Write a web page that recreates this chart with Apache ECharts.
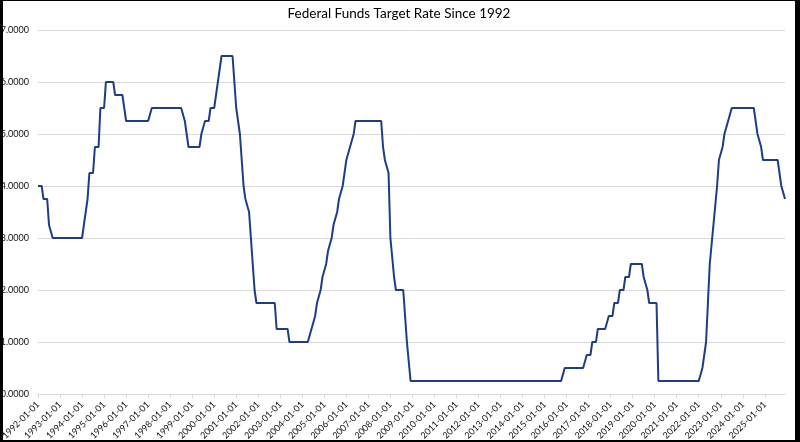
<!DOCTYPE html>
<html>
<head>
<meta charset="utf-8">
<title>Federal Funds Target Rate Since 1992</title>
<script src="https://cdn.jsdelivr.net/npm/echarts@6/dist/echarts.min.js"></script>
<style>
  html, body { margin: 0; padding: 0; background: #000; }
  #chart {
    position: absolute;
    left: 3px;
    top: 1px;
    width: 792px;
    height: 439px;
    background: #fff;
  }
</style>
</head>
<body>
<div id="chart"></div>
<script>
var chartTitle = "Federal Funds Target Rate Since 1992";
var startYear = 1992;
var endYear = 2025;

// month-end target rate (upper bound after 2008), one row per year
var rates1990s = [
  4.00, 4.00, 4.00, 3.75, 3.75, 3.75, 3.25, 3.25, 3.00, 3.00, 3.00, 3.00, // 1992
  3.00, 3.00, 3.00, 3.00, 3.00, 3.00, 3.00, 3.00, 3.00, 3.00, 3.00, 3.00, // 1993
  3.00, 3.25, 3.50, 3.75, 4.25, 4.25, 4.25, 4.75, 4.75, 4.75, 5.50, 5.50, // 1994
  5.50, 6.00, 6.00, 6.00, 6.00, 6.00, 5.75, 5.75, 5.75, 5.75, 5.75, 5.50, // 1995
  5.25, 5.25, 5.25, 5.25, 5.25, 5.25, 5.25, 5.25, 5.25, 5.25, 5.25, 5.25, // 1996
  5.25, 5.25, 5.50, 5.50, 5.50, 5.50, 5.50, 5.50, 5.50, 5.50, 5.50, 5.50, // 1997
  5.50, 5.50, 5.50, 5.50, 5.50, 5.50, 5.50, 5.50, 5.25, 5.00, 4.75, 4.75, // 1998
  4.75, 4.75, 4.75, 4.75, 4.75, 5.00, 5.00, 5.25, 5.25, 5.25, 5.50, 5.50  // 1999
];
var rates2000s = [
  5.50, 5.75, 6.00, 6.00, 6.50, 6.50, 6.50, 6.50, 6.50, 6.50, 6.50, 6.50, // 2000
  5.50, 5.50, 5.00, 4.50, 4.00, 3.75, 3.75, 3.50, 3.00, 2.50, 2.00, 1.75, // 2001
  1.75, 1.75, 1.75, 1.75, 1.75, 1.75, 1.75, 1.75, 1.75, 1.75, 1.25, 1.25, // 2002
  1.25, 1.25, 1.25, 1.25, 1.25, 1.00, 1.00, 1.00, 1.00, 1.00, 1.00, 1.00, // 2003
  1.00, 1.00, 1.00, 1.00, 1.00, 1.25, 1.25, 1.50, 1.75, 1.75, 2.00, 2.25, // 2004
  2.25, 2.50, 2.75, 2.75, 3.00, 3.25, 3.25, 3.50, 3.75, 3.75, 4.00, 4.25, // 2005
  4.50, 4.50, 4.75, 4.75, 5.00, 5.25, 5.25, 5.25, 5.25, 5.25, 5.25, 5.25, // 2006
  5.25, 5.25, 5.25, 5.25, 5.25, 5.25, 5.25, 5.25, 4.75, 4.50, 4.50, 4.25, // 2007
  3.00, 3.00, 2.25, 2.00, 2.00, 2.00, 2.00, 2.00, 2.00, 1.00, 1.00, 0.25, // 2008
  0.25, 0.25, 0.25, 0.25, 0.25, 0.25, 0.25, 0.25, 0.25, 0.25, 0.25, 0.25  // 2009
];
var rates2010s = [
  0.25, 0.25, 0.25, 0.25, 0.25, 0.25, 0.25, 0.25, 0.25, 0.25, 0.25, 0.25, // 2010
  0.25, 0.25, 0.25, 0.25, 0.25, 0.25, 0.25, 0.25, 0.25, 0.25, 0.25, 0.25, // 2011
  0.25, 0.25, 0.25, 0.25, 0.25, 0.25, 0.25, 0.25, 0.25, 0.25, 0.25, 0.25, // 2012
  0.25, 0.25, 0.25, 0.25, 0.25, 0.25, 0.25, 0.25, 0.25, 0.25, 0.25, 0.25, // 2013
  0.25, 0.25, 0.25, 0.25, 0.25, 0.25, 0.25, 0.25, 0.25, 0.25, 0.25, 0.25, // 2014
  0.25, 0.25, 0.25, 0.25, 0.25, 0.25, 0.25, 0.25, 0.25, 0.25, 0.25, 0.50, // 2015
  0.50, 0.50, 0.50, 0.50, 0.50, 0.50, 0.50, 0.50, 0.50, 0.50, 0.50, 0.75, // 2016
  0.75, 0.75, 1.00, 1.00, 1.00, 1.25, 1.25, 1.25, 1.25, 1.25, 1.25, 1.50, // 2017
  1.50, 1.50, 1.75, 1.75, 1.75, 2.00, 2.00, 2.00, 2.25, 2.25, 2.25, 2.50, // 2018
  2.50, 2.50, 2.50, 2.50, 2.50, 2.50, 2.25, 2.25, 2.00, 1.75, 1.75, 1.75  // 2019
];
var rates2020s = [
  1.75, 1.75, 0.25, 0.25, 0.25, 0.25, 0.25, 0.25, 0.25, 0.25, 0.25, 0.25, // 2020
  0.25, 0.25, 0.25, 0.25, 0.25, 0.25, 0.25, 0.25, 0.25, 0.25, 0.25, 0.25, // 2021
  0.25, 0.25, 0.50, 0.50, 1.00, 1.75, 2.50, 2.50, 3.25, 3.25, 4.00, 4.50, // 2022
  4.50, 4.75, 5.00, 5.00, 5.25, 5.25, 5.50, 5.50, 5.50, 5.50, 5.50, 5.50, // 2023
  5.50, 5.50, 5.50, 5.50, 5.50, 5.50, 5.50, 5.50, 5.00, 5.00, 4.75, 4.50, // 2024
  4.50, 4.50, 4.50, 4.50, 4.50, 4.50, 4.50, 4.50, 4.25, 4.00, 4.00, 3.75  // 2025
];

var rates = rates1990s.concat(rates2000s, rates2010s, rates2020s);

// monthly category labels, YYYY-MM-01
var months = [];
for (var y = startYear; y <= endYear; y++) {
  for (var m = 1; m <= 12; m++) {
    months.push(y + "-" + (m < 10 ? "0" + m : m) + "-01");
  }
}

var myChart = echarts.init(document.getElementById("chart"), null, { renderer: "canvas" });

var option = {
  animation: false,
  backgroundColor: "#fff",
  title: {
    text: chartTitle,
    left: "center",
    top: 1,
    textStyle: {
      color: "#000",
      fontFamily: "Lato",
      fontSize: 13.5,
      fontWeight: "normal"
    }
  },
  grid: {
    left: 35,
    right: 10,
    top: 29,
    bottom: 46,
    outerBoundsMode: "none"
  },
  xAxis: {
    type: "category",
    boundaryGap: false,
    data: months,
    axisLine: { lineStyle: { color: "#d9d9d9", width: 1 } },
    axisTick: {
      interval: 11,
      length: 4,
      lineStyle: { color: "#d9d9d9" }
    },
    axisLabel: {
      interval: 11,
      rotate: 45,
      margin: 9,
      color: "#111",
      fontFamily: "Lato",
      fontSize: 9
    },
    splitLine: { show: false }
  },
  yAxis: {
    type: "value",
    min: 0,
    max: 7,
    interval: 1,
    axisLine: { show: false },
    axisTick: { show: false },
    axisLabel: {
      margin: 9,
      color: "#111",
      fontFamily: "Lato",
      fontSize: 9,
      formatter: function (v) { return v.toFixed(4); }
    },
    splitLine: { lineStyle: { color: "#d9d9d9", width: 1 } }
  },
  series: [
    {
      name: "Target Rate",
      type: "line",
      data: rates,
      showSymbol: false,
      lineStyle: { color: "#1f3c88", width: 2 },
      itemStyle: { color: "#1f3c88" }
    }
  ]
};

myChart.setOption(option);
</script>
</body>
</html>
